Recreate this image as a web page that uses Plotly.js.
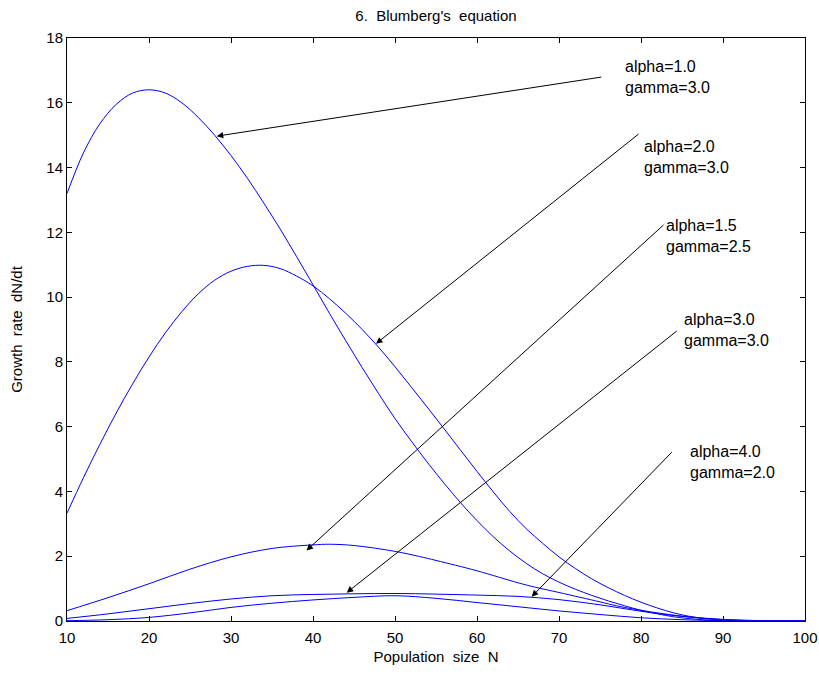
<!DOCTYPE html>
<html>
<head>
<meta charset="utf-8">
<script src="https://cdn.plot.ly/plotly-3.0.1.min.js"></script>
<style>html,body{margin:0;padding:0;background:#fff;}#chart{width:819px;height:680px;}</style>
</head>
<body>
<div id="chart"></div>
<script>
// Population size N (x) and growth rate dN/dt (y)
var nA = [10,12,14,16,18,20,22,24,26,28,30,32,34,36,38,40,42,44,46,48,50,52,54,56,58,60,62,64,66,68,70,72,74,76,78,80,82,84,86,88,90,95,100];
var yA = [13.2,14.45,15.35,15.95,16.3,16.4,16.3,16.0,15.55,15.0,14.37,13.67,12.9,12.1,11.25,10.38,9.5,8.65,7.82,7.02,6.25,5.55,4.88,4.25,3.65,3.1,2.6,2.16,1.78,1.46,1.2,0.98,0.79,0.62,0.47,0.33,0.22,0.13,0.07,0.03,0.01,0,0];

var nB = [10,12,14,16,18,20,22,24,26,28,30,32,34,36,38,40,42,44,46,48,50,52,54,56,58,60,62,64,66,68,70,72,74,76,78,80,82,84,86,88,90,92,95,100];
var yB = [3.33,4.42,5.45,6.42,7.32,8.15,8.9,9.55,10.1,10.52,10.8,10.95,10.98,10.88,10.65,10.35,9.95,9.5,9.0,8.45,7.85,7.22,6.58,5.93,5.27,4.62,3.98,3.38,2.85,2.4,1.98,1.62,1.3,1.03,0.79,0.58,0.4,0.25,0.14,0.07,0.03,0.01,0,0];

var nC = [10,15,20,25,30,35,40,42,45,50,53,55,60,65,67,70,75,77,80,85,90,95,100];
var yC = [0.32,0.72,1.15,1.6,1.98,2.24,2.35,2.37,2.33,2.15,1.99,1.87,1.55,1.18,1.05,0.88,0.59,0.47,0.33,0.15,0.05,0.01,0];

var nD = [10,15,20,25,30,35,40,45,50,55,60,65,70,75,80,85,90,95,100];
var yD = [0.08,0.22,0.38,0.54,0.68,0.78,0.82,0.84,0.85,0.83,0.8,0.76,0.66,0.5,0.3,0.14,0.04,0.01,0];

var nE = [10,15,20,25,30,35,40,45,50,55,60,65,70,75,80,85,90,95,100];
var yE = [0.01,0.04,0.11,0.25,0.42,0.55,0.65,0.73,0.78,0.7,0.57,0.44,0.31,0.2,0.1,0.04,0.01,0,0];

var labels = ["alpha=1.0<br>gamma=3.0","alpha=2.0<br>gamma=3.0","alpha=1.5<br>gamma=2.5","alpha=3.0<br>gamma=3.0","alpha=4.0<br>gamma=2.0"];
var labelN = [77.8,80.1,82.8,85.0,85.7];
var labelY = [16.8,14.34,11.9,8.99,4.9];
var tailN = [75.33,79.88,82.93,84.55,83.94];
var tailY = [16.8,15.07,12.27,8.99,5.26];
var tipN = [28.26,47.68,39.21,44.11,66.67];
var tipY = [14.97,8.56,2.18,0.875,0.75];

var font = "Liberation Sans, Arial, Helvetica, sans-serif";
function tr(x,y){return {x:x,y:y,type:'scatter',mode:'lines',line:{color:'#0000ff',width:1,shape:'spline',smoothing:1},hoverinfo:'skip',showlegend:false};}
var data = [tr(nA,yA),tr(nB,yB),tr(nC,yC),tr(nD,yD),tr(nE,yE)];

var ann = [];
for (var i=0;i<labels.length;i++){
  ann.push({x:labelN[i],y:labelY[i],xref:'x',yref:'y',text:labels[i],showarrow:false,xanchor:'left',yanchor:'middle',align:'left',font:{family:font,size:16,color:'#000'}});
  ann.push({x:tipN[i],y:tipY[i],xref:'x',yref:'y',ax:tailN[i],ay:tailY[i],axref:'x',ayref:'y',text:'',showarrow:true,arrowhead:2,arrowsize:1.3,arrowwidth:1,arrowcolor:'#000',standoff:0,startstandoff:0});
}

var layout = {
  width:819,height:680,
  margin:{l:67,r:14,t:38,b:59},
  paper_bgcolor:'#fff',plot_bgcolor:'#fff',
  font:{family:font,size:15,color:'#000'},
  title:{text:"6.\u00a0 Blumberg's\u00a0 equation",font:{family:font,size:15,color:'#000'},x:0.5,xref:'paper',y:1-16/680,yref:'container',yanchor:'middle'},
  xaxis:{range:[10,100],dtick:10,tick0:0,ticks:'inside',ticklen:5,tickcolor:'#000',showline:true,linecolor:'#000',linewidth:1,mirror:'ticks',showgrid:false,zeroline:false,tickfont:{family:font,size:15},ticklabelstandoff:3,
    title:{text:"Population\u00a0 size\u00a0 N",font:{family:font,size:15},standoff:6}},
  yaxis:{range:[0,18],dtick:2,tick0:0,ticks:'inside',ticklen:5,tickcolor:'#000',showline:true,linecolor:'#000',linewidth:1,mirror:'ticks',showgrid:false,zeroline:false,tickfont:{family:font,size:15},
    title:{text:"Growth\u00a0 rate\u00a0 dN/dt",font:{family:font,size:15},standoff:20}},
  annotations:ann
};
Plotly.newPlot('chart',data,layout,{staticPlot:true});
</script>
</body>
</html>
